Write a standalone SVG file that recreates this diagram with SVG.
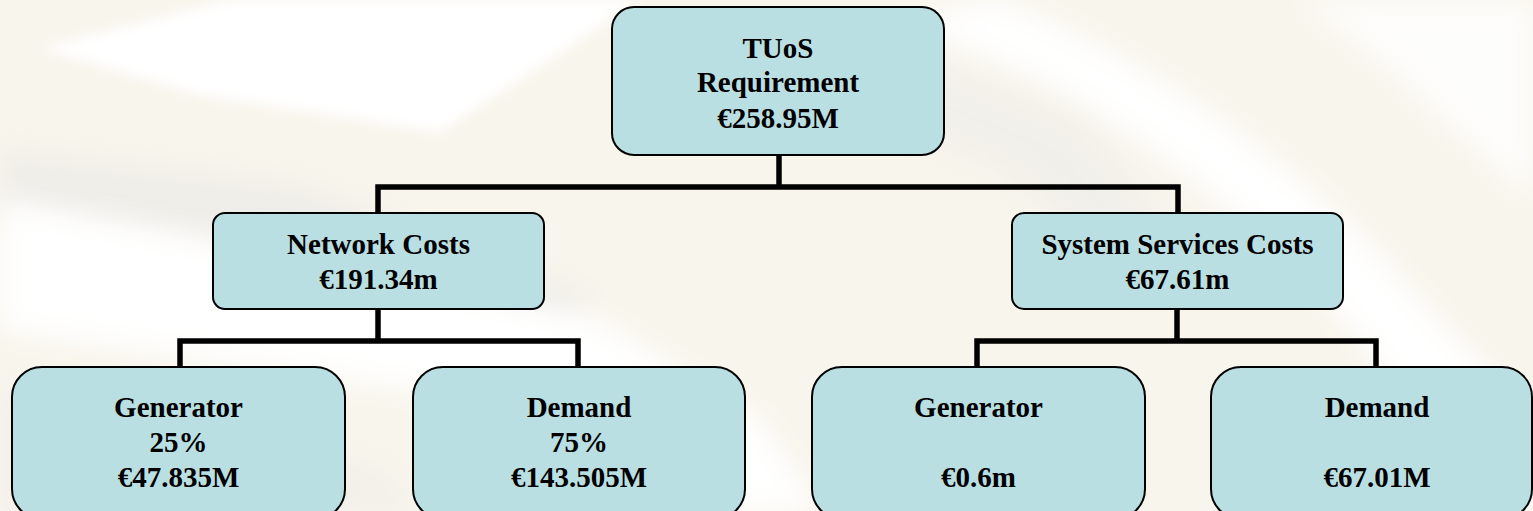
<svg xmlns="http://www.w3.org/2000/svg" width="1533" height="511" viewBox="0 0 1533 511">
<style>
.box{fill:#badfe3;stroke:#000;stroke-width:2}
.t{font-family:"Liberation Serif","Times New Roman",serif;font-weight:bold;font-size:29px;fill:#000;text-anchor:middle}
.conn{fill:none;stroke:#000;stroke-width:5.5;stroke-linejoin:miter;stroke-linecap:butt}
</style>
<defs>
<filter id="blur" x="-20%" y="-20%" width="140%" height="140%"><feGaussianBlur stdDeviation="14"/></filter>
<filter id="blur2" x="-20%" y="-20%" width="140%" height="140%"><feGaussianBlur stdDeviation="6"/></filter>
</defs>
<g id="background">
<rect x="0" y="0" width="1533" height="511" fill="#f8f5ec"/>
<polygon points="40,48 230,0 640,0 520,80 440,132 200,95" fill="#ffffff" filter="url(#blur2)"/>
<polygon points="0,150 300,185 470,250 600,300 560,330 300,265 0,215" fill="#e4e4e4" opacity="0.45" filter="url(#blur)"/>
<polygon points="0,200 320,260 600,320 760,420 820,511 640,511 420,390 0,330" fill="#ffffff" filter="url(#blur)"/>
<polygon points="0,390 200,410 380,470 420,511 0,511" fill="#ebeae7" opacity="0.5" filter="url(#blur)"/>
<path d="M1000,0 C1150,60 1300,160 1420,300 L1533,420 L1533,511 L1470,511 C1400,360 1260,200 1040,80 L900,20 Z" fill="#ffffff" filter="url(#blur)"/>
<polygon points="930,60 1080,120 1200,260 1150,300 1000,170 880,120" fill="#e6e6e6" opacity="0.35" filter="url(#blur)"/>
<polygon points="1533,0 1533,200 1380,60 1300,0" fill="#ffffff" opacity="0.8" filter="url(#blur)"/>
</g>
<g id="connectors">
<path class="conn" d="M779,155 V187"/>
<path class="conn" d="M378,213 V187 H1178 V213"/>
<path class="conn" d="M378,309 V341"/>
<path class="conn" d="M180,367 V341 H578 V367"/>
<path class="conn" d="M1177,309 V341"/>
<path class="conn" d="M977,367 V341 H1376 V367"/>
</g>
<g id="node-tuos">
<rect class="box" x="612" y="7" width="332" height="148" rx="22"/>
<text class="t" x="778" y="58">TUoS</text>
<text class="t" x="778" y="92">Requirement</text>
<text class="t" x="778" y="128">€258.95M</text>
</g>
<g id="node-network">
<rect class="box" x="213" y="213" width="331" height="96" rx="12"/>
<text class="t" x="378.5" y="254">Network Costs</text>
<text class="t" x="378.5" y="289">€191.34m</text>
</g>
<g id="node-system">
<rect class="box" x="1012" y="213" width="331" height="96" rx="12"/>
<text class="t" x="1177.5" y="254">System Services Costs</text>
<text class="t" x="1177.5" y="289">€67.61m</text>
</g>
<g id="node-net-generator">
<rect class="box" x="12" y="367" width="333" height="152" rx="30"/>
<text class="t" x="178.5" y="417">Generator</text>
<text class="t" x="178.5" y="452">25%</text>
<text class="t" x="178.5" y="487">€47.835M</text>
</g>
<g id="node-net-demand">
<rect class="box" x="413" y="367" width="332" height="152" rx="30"/>
<text class="t" x="579" y="417">Demand</text>
<text class="t" x="579" y="452">75%</text>
<text class="t" x="579" y="487">€143.505M</text>
</g>
<g id="node-ss-generator">
<rect class="box" x="812" y="367" width="333" height="152" rx="30"/>
<text class="t" x="978.5" y="417">Generator</text>
<text class="t" x="978.5" y="487">€0.6m</text>
</g>
<g id="node-ss-demand">
<rect class="box" x="1211" y="367" width="321" height="152" rx="30"/>
<text class="t" x="1377" y="417">Demand</text>
<text class="t" x="1377" y="487">€67.01M</text>
</g>
</svg>
